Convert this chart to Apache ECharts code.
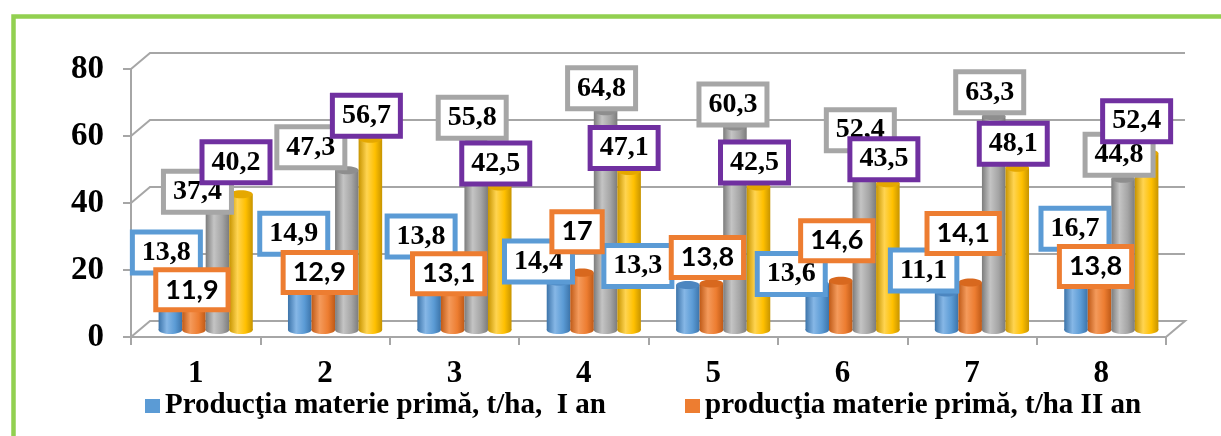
<!DOCTYPE html>
<html>
<head>
<meta charset="utf-8">
<script src="https://cdn.jsdelivr.net/npm/echarts/dist/echarts.min.js"></script>
<style>
  html, body { margin: 0; padding: 0; background: #fff; }
  #chart { width: 1221px; height: 436px; }
</style>
</head>
<body>
<div id="chart"></div>
<script>
// Categories and values (t/ha)
const categories = ['1', '2', '3', '4', '5', '6', '7', '8'];
const yearI = [13.8, 14.9, 13.8, 14.4, 13.3, 13.6, 11.1, 16.7];
const yearII = [11.9, 12.9, 13.1, 17, 13.8, 14.6, 14.1, 13.8];
const seriesGray = [37.4, 47.3, 55.8, 64.8, 60.3, 52.4, 63.3, 44.8];
const seriesGold = [40.2, 56.7, 42.5, 47.1, 42.5, 43.5, 48.1, 52.4];
const yTicks = [0, 20, 40, 60, 80];

const nameI = 'Producţia materie primă, t/ha,  I an';
const nameII = 'producţia materie primă, t/ha II an';

// Label box offsets from each bar top [dx, dy], so the boxes don't collide
const nudgeI = [[-4, -31], [-6, -46], [-8, -47], [-20, -20], [-50, -19], [-26, -10], [-23, -22], [-1, -45]];
const nudgeII = [[-2, 0], [-4, -14], [-4, -12], [-5, -41], [-4, -26], [-4, -40], [-7, -49], [-4, -17]];
const nudgeGray = [[-20, -12], [-36, -23], [-4, -24], [-4, -23], [-2, -22], [-4, -23], [-4, -24], [-4, -24]];
const nudgeGold = [[-5, -32], [-4, -23], [-4, -23], [-5, -23], [-4, -24], [-4, -24], [-4, -24], [-10, -32]];

const SERIF = '"Liberation Serif", "Times New Roman", serif';
const SANS = 'Lato, "Noto Sans", sans-serif';
const LINE = '#A6A6A6';
const BAR_RATIO = 0.182;     // bar width as a share of the category width
const DEPTH = [19, -16];     // offset of the back wall relative to the front axes

const palettes = {
  blue:   { base: '#5B9BD5', light: '#86B7E6', dark: '#3C74AA', cap: '#4C86C0', label: '#5B9BD5' },
  orange: { base: '#ED7D31', light: '#F49A5B', dark: '#BF5A17', cap: '#D8681E', label: '#ED7D31' },
  gray:   { base: '#A5A5A5', light: '#C4C4C4', dark: '#7C7C7C', cap: '#8E8E8E', label: '#A6A6A6' },
  gold:   { base: '#FFC000', light: '#FFD451', dark: '#C79400', cap: '#E5A800', label: '#7030A0' }
};

const fmt = v => String(v).replace('.', ',');

function cylinderSeries(name, values, pal, slot, nudge, labelFont) {
  return {
    type: 'custom',
    name: name,
    xAxisIndex: 1,
    yAxisIndex: 1,
    z: 3,
    itemStyle: { color: pal.base },
    data: values.map((v, i) => [i, v]),
    renderItem: function (params, api) {
      const i = api.value(0);
      const v = api.value(1);
      const top = api.coord([i, v]);
      const base = api.coord([i, 0]);
      const catW = api.size([1, 0])[0];
      const w = catW * BAR_RATIO;
      const cx = top[0] + (slot - 1.5) * w;
      const ry = w * 0.17;
      const grad = new echarts.graphic.LinearGradient(0, 0, 1, 0, [
        { offset: 0, color: pal.dark },
        { offset: 0.35, color: pal.light },
        { offset: 0.7, color: pal.base },
        { offset: 1, color: pal.dark }
      ]);
      const n = nudge[i];
      return {
        type: 'group',
        children: [
          { type: 'ellipse', shape: { cx: cx, cy: base[1], rx: w / 2, ry: ry }, style: { fill: grad } },
          { type: 'rect', shape: { x: cx - w / 2, y: top[1], width: w, height: base[1] - top[1] }, style: { fill: grad } },
          { type: 'ellipse', shape: { cx: cx, cy: top[1], rx: w / 2, ry: ry }, style: { fill: pal.cap } },
          {
            type: 'text', z2: 100 + slot,
            x: cx + n[0], y: top[1] + n[1],
            style: {
              text: fmt(v), font: labelFont, fill: '#000',
              align: 'center', verticalAlign: 'middle',
              backgroundColor: '#fff', borderColor: pal.label, borderWidth: 5,
              padding: [4, 7]
            }
          }
        ]
      };
    }
  };
}

// Back wall gridlines, side diagonals and floor outline of the pseudo-3D box
const frameSeries = {
  type: 'custom',
  xAxisIndex: 0,
  yAxisIndex: 0,
  z: 1,
  silent: true,
  data: yTicks.map(v => [0, v]),
  renderItem: function (params, api) {
    const cs = params.coordSys;
    const v = api.value(1);
    const y = api.coord([0, v])[1];
    const x0 = cs.x, x1 = cs.x + cs.width;
    const pts = [[x0, y], [x0 + DEPTH[0], y + DEPTH[1]], [x1 + DEPTH[0], y + DEPTH[1]]];
    if (v === 0) pts.push([x1, y]);
    return {
      type: 'polyline',
      shape: { points: pts },
      style: { stroke: LINE, lineWidth: 2, fill: null }
    };
  }
};

const chart = echarts.init(document.getElementById('chart'), null, { renderer: 'canvas' });

chart.setOption({
  backgroundColor: '#fff',
  animation: false,
  graphic: [{
    type: 'rect', left: 11, top: 14, z: 100,
    shape: { width: 1300, height: 500 },
    style: { stroke: '#92D050', lineWidth: 4.5, fill: null }
  }],
  legend: [{
    data: [nameI], left: 140, top: 386, icon: 'rect',
    itemWidth: 15, itemHeight: 14,
    textStyle: { fontFamily: SERIF, fontWeight: 'bold', fontSize: 29, color: '#000', lineHeight: 30 }
  }, {
    data: [nameII], left: 680, top: 386, icon: 'rect',
    itemWidth: 15, itemHeight: 14,
    textStyle: { fontFamily: SERIF, fontWeight: 'bold', fontSize: 29, color: '#000', lineHeight: 30 }
  }],
  grid: [
    // front axes
    { left: 131, right: 55, top: 69, bottom: 99 },
    // mid-depth plane where the cylinders stand
    { left: 141, right: 45, top: 60, bottom: 106 }
  ],
  xAxis: [{
    gridIndex: 0, type: 'category', data: categories, boundaryGap: true,
    axisLine: { show: true, lineStyle: { color: LINE, width: 2 } },
    axisTick: { show: true, length: 8, lineStyle: { color: LINE, width: 2 } },
    axisLabel: { fontFamily: SERIF, fontWeight: 'bold', fontSize: 31, color: '#000', margin: 21 },
    splitLine: { show: false }
  }, {
    gridIndex: 1, type: 'category', data: categories, boundaryGap: true, show: false
  }],
  yAxis: [{
    gridIndex: 0, type: 'value', min: 0, max: 80, interval: 20,
    axisLine: { show: true, lineStyle: { color: LINE, width: 2 } },
    axisTick: { show: true, length: 8, lineStyle: { color: LINE, width: 2 } },
    axisLabel: { fontFamily: SERIF, fontWeight: 'bold', fontSize: 33, color: '#000', margin: 27 },
    splitLine: { show: false }
  }, {
    gridIndex: 1, type: 'value', min: 0, max: 80, interval: 20, show: false,
    splitLine: { show: false }
  }],
  series: [
    frameSeries,
    cylinderSeries(nameI, yearI, palettes.blue, 0, nudgeI, 'bold 28px ' + SERIF),
    cylinderSeries(nameII, yearII, palettes.orange, 1, nudgeII, 'bold 27px ' + SANS),
    cylinderSeries('seria 3', seriesGray, palettes.gray, 2, nudgeGray, 'bold 28px ' + SERIF),
    cylinderSeries('seria 4', seriesGold, palettes.gold, 3, nudgeGold, 'bold 28px ' + SERIF)
  ]
});
</script>
</body>
</html>
